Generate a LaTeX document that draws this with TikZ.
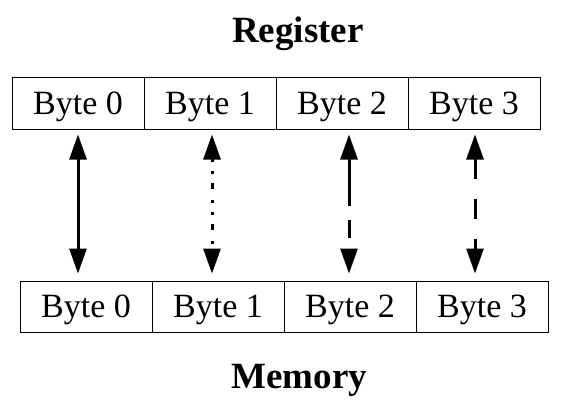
\documentclass[tikz,border=0pt]{standalone}
\usepackage{fontspec}
\setmainfont{Liberation Serif}
\usetikzlibrary{arrows.meta,calc}
\begin{document}
\begin{tikzpicture}[x=1pt,y=-1pt,
  cell/.style={draw=black,line width=1pt,rectangle,minimum width=132pt,minimum height=52pt,inner sep=0pt,
    font=\fontsize{34}{40}\selectfont,text height=22.5pt,text depth=0pt},
  title/.style={anchor=base,inner sep=0pt,font=\fontsize{37}{44}\selectfont\bfseries},
  arr/.style={line width=3pt,{Triangle[length=25pt,width=17pt]}-{Triangle[length=25pt,width=17pt]}}]
\useasboundingbox (0,0) rectangle (564,408);
\node[title] (reg) at (298,42) {Register};
\node[title] (mem) at (299.2,388) {Memory};
\node[cell] (t0) at (78,103) {Byte 0};
\node[cell] (t1) at (210,103) {Byte 1};
\node[cell] (t2) at (342,103) {Byte 2};
\node[cell] (t3) at (474,103) {Byte 3};
\node[cell,minimum height=51pt] (b0) at (86,306.5) {Byte 0};
\node[cell,minimum height=51pt] (b1) at (218,306.5) {Byte 1};
\node[cell,minimum height=51pt] (b2) at (350,306.5) {Byte 2};
\node[cell,minimum height=51pt] (b3) at (482,306.5) {Byte 3};
\draw[arr] ($(t0.south)+(0,5)$) -- ($(t0.south |- b0.north)+(0,-7)$);
\draw[arr,dash pattern={on 3pt off 9pt on 3pt off 9pt on 6pt off 11pt}] ($(t1.south)+(2,5)$) -- ($(t1.south |- b1.north)+(2,-7)$);
\draw[arr,dash pattern={on 47pt off 14pt on 18pt off 14pt}] ($(b2.north |- t2.south)+(-1,5)$) -- ($(b2.north)+(-1,-7)$);
\draw[arr,dash pattern={on 20pt off 20pt}] ($(t3.south)+(1,5)$) -- ($(t3.south |- b3.north)+(1,-7)$);
\end{tikzpicture}
\end{document}
